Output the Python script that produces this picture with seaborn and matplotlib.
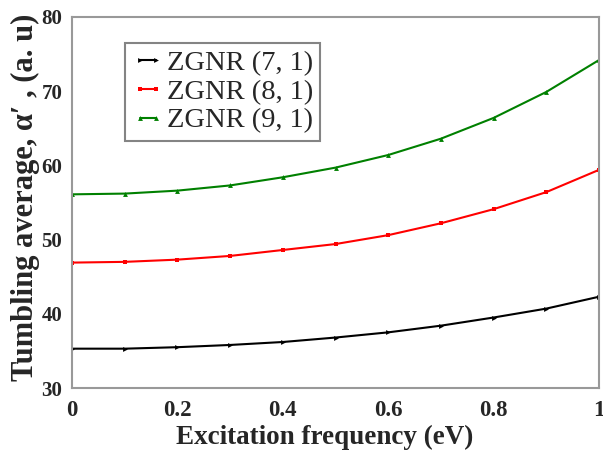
import numpy as np
import pandas as pd
import matplotlib
matplotlib.use("Agg")
import matplotlib.pyplot as plt
import seaborn as sns

sns.set_style("white")
plt.rcParams['font.family'] = ['Liberation Serif', 'DejaVu Serif']

freq = [0.0, 0.1, 0.2, 0.3, 0.4, 0.5, 0.6, 0.7, 0.8, 0.9, 1.0]
zgnr_7_1 = [35.3, 35.3, 35.5, 35.8, 36.2, 36.8, 37.5, 38.4, 39.5, 40.7, 42.3]
zgnr_8_1 = [46.9, 47.0, 47.3, 47.8, 48.6, 49.4, 50.6, 52.2, 54.1, 56.4, 59.4]
zgnr_9_1 = [56.1, 56.2, 56.6, 57.3, 58.4, 59.7, 61.4, 63.6, 66.4, 69.9, 74.2]
series_names = ["ZGNR (7, 1)", "ZGNR (8, 1)", "ZGNR (9, 1)"]
x_ticks = [0, 0.2, 0.4, 0.6, 0.8, 1]
x_tick_labels = ["0", "0.2", "0.4", "0.6", "0.8", "1"]
y_ticks = [30, 40, 50, 60, 70, 80]

df = pd.DataFrame({
    "freq": freq * 3,
    "value": zgnr_7_1 + zgnr_8_1 + zgnr_9_1,
    "series": sum([[n] * len(freq) for n in series_names], []),
})

fig = plt.figure(figsize=(6.03, 4.54), dpi=100)
ax = fig.add_axes([72/603, 1-388/454, (599-72)/603, (388-17)/454])

palette = {series_names[0]: "black", series_names[1]: "red", series_names[2]: "green"}
markers = {series_names[0]: ">", series_names[1]: "s", series_names[2]: "^"}
sns.lineplot(data=df, x="freq", y="value", hue="series", style="series",
             palette=palette, markers=markers, dashes=False, markersize=3.5,
             markeredgewidth=0, linewidth=1.5, ax=ax)

ax.set_xlim(0, 1)
ax.set_ylim(30, 80)
ax.set_xticks(x_ticks)
ax.set_xticklabels(x_tick_labels)
ax.set_yticks(y_ticks)
for lab in ax.get_xticklabels():
    lab.set_fontweight("bold")
    lab.set_fontsize(16.5)
for lab in ax.get_yticklabels():
    lab.set_fontweight("bold")
    lab.set_fontsize(15)
ax.tick_params(direction="in", length=10, width=1, color="#333333")
ax.tick_params(axis="y", pad=7)
ax.tick_params(axis="x", pad=9)
for s in ax.spines.values():
    s.set_color("#999999")
    s.set_linewidth(1.5)

ax.set_xlabel("Excitation frequency (eV)", fontsize=19.5, fontweight="bold")
ax.xaxis.set_label_coords((325 - 72) / 527, -0.1)
ax.set_ylabel("Tumbling average, \u03b1\u2032 , (a. u)", fontsize=22, fontweight="bold")
ax.yaxis.set_label_coords(-0.06, 0.515)

leg = ax.legend(loc="upper left", bbox_to_anchor=(0.1, 0.93), fontsize=20.5,
                frameon=True, fancybox=False, edgecolor="#666666",
                handlelength=1.15, handletextpad=0.08, borderpad=0.25,
                borderaxespad=0, labelspacing=0.1, numpoints=2)
leg.get_frame().set_linewidth(1.5)

fig.savefig("out.png", dpi=100)
